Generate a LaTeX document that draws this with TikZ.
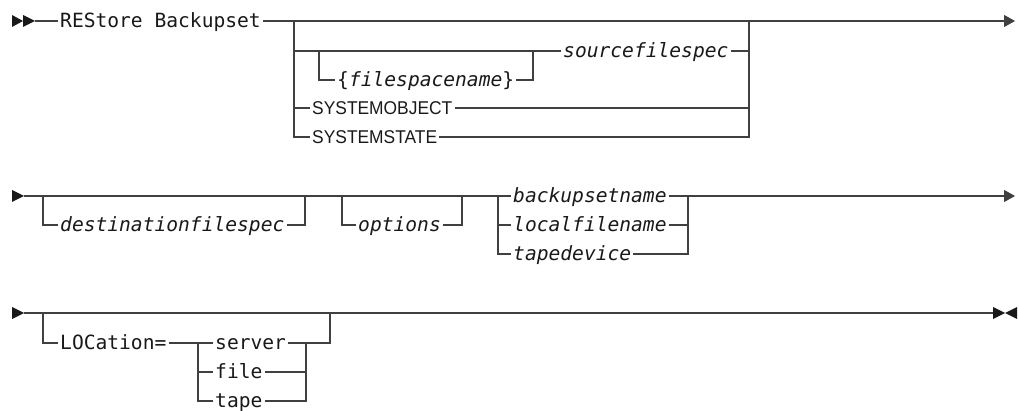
\documentclass[tikz,border=0pt]{standalone}
\usepackage{fontspec}
\usepackage{tikz}
\usetikzlibrary{arrows.meta}
\newfontfamily\railmono{DejaVu Sans Mono}
\newfontfamily\railsans[FakeStretch=0.94]{Liberation Sans}

\begin{document}
\begin{tikzpicture}[
    x=1pt, y=-1pt,
    rail/.style={draw=black!75, line width=1.2pt},
    railend/.style={rail, -{Triangle[length=11pt,width=12pt]}},
    word/.style={anchor=west, inner xsep=2pt, inner ysep=0pt, text height=13pt, text depth=0pt, text=black!90},
    kw/.style={word, font=\railmono\fontsize{19.6}{20}\selectfont},
    var/.style={word, font=\railmono\itshape\fontsize{19.6}{20}\selectfont},
    sys/.style={word, font=\railsans\fontsize{18.5}{19}\selectfont},
    rstart/.pic={\fill[black!90] (-23,-6) -- (-12,0) -- (-23,6) -- cycle (-12,-6) -- (0,0) -- (-12,6) -- cycle;},
    rcont/.pic={\fill[black!90] (-12,-6) -- (0,0) -- (-12,6) -- cycle;},
    rstop/.pic={\fill[black!90] (0,-6) -- (12,0) -- (0,6) -- cycle (24,-6) -- (12,0) -- (24,6) -- cycle;}
  ]
    \useasboundingbox (0,0) rectangle (1019,411);

    % first line
    \coordinate (s1) at (35,21);
    \coordinate (r1a) at (294,21);
    \coordinate (r1b) at (749,21);
    \coordinate (r1end) at (1015,21);
    \coordinate (fs1) at (319,51);
    \coordinate (fs2) at (533,51);
    \node[kw] (rest) at (58,21) {REStore Backupset};
    \node[var] (src) at (561,51) {sourcefilespec};
    \node[kw] (fspace) at (335,80) {\{\textit{filespacename}\}};
    \node[sys] (sobj) at (310,108) {SYSTEMOBJECT};
    \node[sys] (sstate) at (310,137) {SYSTEMSTATE};
    \pic at (s1) {rstart};
    \draw[rail] (s1) -- (rest);
    \draw[rail] (rest) -- (r1b);
    \draw[railend] (r1b) -- (r1end);
    \draw[rail] (r1a |- src) -- (src);
    \draw[rail] (src) -- (r1b |- src);
    \draw[rail] (fs1) |- (fspace);
    \draw[rail] (fspace) -| (fs2);
    \draw[rail] (r1a |- sobj) -- (sobj);
    \draw[rail] (sobj) -- (r1b |- sobj);
    \draw[rail] (r1a) |- (sstate);
    \draw[rail] (sstate) -| (r1b);

    % second line
    \coordinate (s2) at (24,196);
    \coordinate (d1) at (43,196);
    \coordinate (d2) at (305,196);
    \coordinate (o1) at (342,196);
    \coordinate (o2) at (462,196);
    \coordinate (c2a) at (498,196);
    \coordinate (c2b) at (688,196);
    \coordinate (r2end) at (1015,196);
    \node[var] (dest) at (58,225) {destinationfilespec};
    \node[var] (opts) at (356,225) {options};
    \node[var] (bsn) at (511,196) {backupsetname};
    \node[var] (lfn) at (511,225) {localfilename};
    \node[var] (tdev) at (511,254) {tapedevice};
    \pic at (s2) {rcont};
    \draw[rail] (s2) -- (bsn);
    \draw[rail] (d1) |- (dest);
    \draw[rail] (dest) -| (d2);
    \draw[rail] (o1) |- (opts);
    \draw[rail] (opts) -| (o2);
    \draw[rail] (bsn) -- (c2b);
    \draw[rail] (c2a |- lfn) -- (lfn);
    \draw[rail] (lfn) -- (c2b |- lfn);
    \draw[rail] (c2a) |- (tdev);
    \draw[rail] (tdev) -| (c2b);
    \draw[railend] (c2b) -- (r2end);

    % third line
    \coordinate (s3) at (24,313);
    \coordinate (l1) at (43,313);
    \coordinate (l2) at (330,313);
    \coordinate (v1) at (198,343);
    \coordinate (v2) at (306,343);
    \coordinate (r3end) at (993,313);
    \node[kw] (loc) at (58,343) {LOCation=};
    \node[kw] (srv) at (213,343) {server};
    \node[kw] (file) at (213,372) {file};
    \node[kw] (tape) at (213,401) {tape};
    \pic at (s3) {rcont};
    \draw[rail] (s3) -- (r3end);
    \pic at (r3end) {rstop};
    \draw[rail] (l1) |- (loc);
    \draw[rail] (loc) -- (srv);
    \draw[rail] (v1 |- file) -- (file);
    \draw[rail] (v1) |- (tape);
    \draw[rail] (srv) -| (l2);
    \draw[rail] (file) -| (v2);
    \draw[rail] (tape) -| (v2);
  \end{tikzpicture}
\end{document}
